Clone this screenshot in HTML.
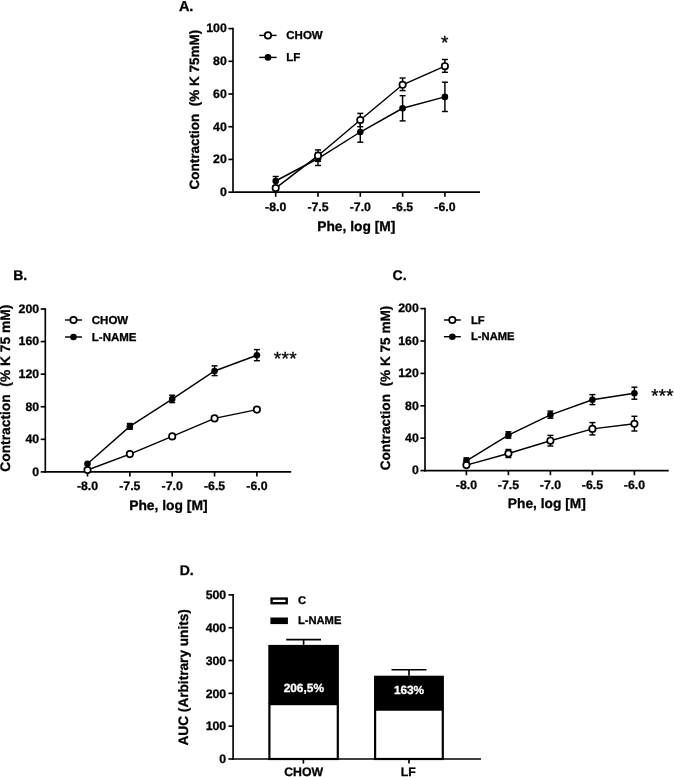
<!DOCTYPE html>
<html><head><meta charset="utf-8"><title>Figure</title>
<style>
html,body{margin:0;padding:0;background:#fff;}
svg{display:block;filter:blur(0.4px);font-family:"Liberation Sans", sans-serif;text-rendering:geometricPrecision;}
</style></head><body>
<svg width="674" height="777" viewBox="0 0 674 777">
<rect width="674" height="777" fill="#fff"/>
<text transform="translate(178.90 10.60) scale(1.0 1)" font-size="14.5" font-weight="bold" text-anchor="start" fill="#000" style="white-space:pre" stroke="#000" stroke-width="0.3">A.</text>
<line x1="233.00" y1="27.78" x2="233.00" y2="192.97" stroke="#000" stroke-width="1.65" stroke-linecap="butt"/>
<line x1="232.18" y1="192.15" x2="480.00" y2="192.15" stroke="#000" stroke-width="1.65" stroke-linecap="butt"/>
<line x1="228.40" y1="192.15" x2="233.00" y2="192.15" stroke="#000" stroke-width="1.65" stroke-linecap="butt"/>
<text transform="translate(226.80 195.98) scale(1.0 1)" font-size="12.3" font-weight="bold" text-anchor="end" fill="#000" style="white-space:pre" stroke="#000" stroke-width="0.3">0</text>
<line x1="228.40" y1="159.44" x2="233.00" y2="159.44" stroke="#000" stroke-width="1.65" stroke-linecap="butt"/>
<text transform="translate(226.80 163.27) scale(1.0 1)" font-size="12.3" font-weight="bold" text-anchor="end" fill="#000" style="white-space:pre" stroke="#000" stroke-width="0.3">20</text>
<line x1="228.40" y1="126.73" x2="233.00" y2="126.73" stroke="#000" stroke-width="1.65" stroke-linecap="butt"/>
<text transform="translate(226.80 130.56) scale(1.0 1)" font-size="12.3" font-weight="bold" text-anchor="end" fill="#000" style="white-space:pre" stroke="#000" stroke-width="0.3">40</text>
<line x1="228.40" y1="94.02" x2="233.00" y2="94.02" stroke="#000" stroke-width="1.65" stroke-linecap="butt"/>
<text transform="translate(226.80 97.85) scale(1.0 1)" font-size="12.3" font-weight="bold" text-anchor="end" fill="#000" style="white-space:pre" stroke="#000" stroke-width="0.3">60</text>
<line x1="228.40" y1="61.31" x2="233.00" y2="61.31" stroke="#000" stroke-width="1.65" stroke-linecap="butt"/>
<text transform="translate(226.80 65.14) scale(1.0 1)" font-size="12.3" font-weight="bold" text-anchor="end" fill="#000" style="white-space:pre" stroke="#000" stroke-width="0.3">80</text>
<line x1="228.40" y1="28.60" x2="233.00" y2="28.60" stroke="#000" stroke-width="1.65" stroke-linecap="butt"/>
<text transform="translate(226.80 32.43) scale(1.0 1)" font-size="12.3" font-weight="bold" text-anchor="end" fill="#000" style="white-space:pre" stroke="#000" stroke-width="0.3">100</text>
<line x1="275.70" y1="192.15" x2="275.70" y2="196.75" stroke="#000" stroke-width="1.65" stroke-linecap="butt"/>
<text transform="translate(275.70 210.65) scale(1.0 1)" font-size="12.3" font-weight="bold" text-anchor="middle" fill="#000" style="white-space:pre" stroke="#000" stroke-width="0.3">-8.0</text>
<line x1="318.00" y1="192.15" x2="318.00" y2="196.75" stroke="#000" stroke-width="1.65" stroke-linecap="butt"/>
<text transform="translate(318.00 210.65) scale(1.0 1)" font-size="12.3" font-weight="bold" text-anchor="middle" fill="#000" style="white-space:pre" stroke="#000" stroke-width="0.3">-7.5</text>
<line x1="360.30" y1="192.15" x2="360.30" y2="196.75" stroke="#000" stroke-width="1.65" stroke-linecap="butt"/>
<text transform="translate(360.30 210.65) scale(1.0 1)" font-size="12.3" font-weight="bold" text-anchor="middle" fill="#000" style="white-space:pre" stroke="#000" stroke-width="0.3">-7.0</text>
<line x1="402.60" y1="192.15" x2="402.60" y2="196.75" stroke="#000" stroke-width="1.65" stroke-linecap="butt"/>
<text transform="translate(402.60 210.65) scale(1.0 1)" font-size="12.3" font-weight="bold" text-anchor="middle" fill="#000" style="white-space:pre" stroke="#000" stroke-width="0.3">-6.5</text>
<line x1="444.90" y1="192.15" x2="444.90" y2="196.75" stroke="#000" stroke-width="1.65" stroke-linecap="butt"/>
<text transform="translate(444.90 210.65) scale(1.0 1)" font-size="12.3" font-weight="bold" text-anchor="middle" fill="#000" style="white-space:pre" stroke="#000" stroke-width="0.3">-6.0</text>
<text transform="translate(198.50 109.70) rotate(-90) scale(1.0 1)" font-size="13.5" font-weight="bold" text-anchor="middle" fill="#000" style="white-space:pre" stroke="#000" stroke-width="0.3">Contraction  (% K 75mM)</text>
<text transform="translate(356.30 230.50) scale(1.0 1)" font-size="13.8" font-weight="bold" text-anchor="middle" fill="#000" style="white-space:pre" stroke="#000" stroke-width="0.3">Phe, log [M]</text>
<polyline points="275.70,181.00 318.00,158.50 360.30,132.00 402.60,108.30 444.90,96.90" fill="none" stroke="#000" stroke-width="1.45"/>
<line x1="275.70" y1="176.50" x2="275.70" y2="186.00" stroke="#000" stroke-width="1.45" stroke-linecap="butt"/>
<line x1="272.70" y1="176.50" x2="278.70" y2="176.50" stroke="#000" stroke-width="1.45" stroke-linecap="butt"/>
<line x1="272.70" y1="186.00" x2="278.70" y2="186.00" stroke="#000" stroke-width="1.45" stroke-linecap="butt"/>
<line x1="318.00" y1="152.50" x2="318.00" y2="165.50" stroke="#000" stroke-width="1.45" stroke-linecap="butt"/>
<line x1="315.00" y1="152.50" x2="321.00" y2="152.50" stroke="#000" stroke-width="1.45" stroke-linecap="butt"/>
<line x1="315.00" y1="165.50" x2="321.00" y2="165.50" stroke="#000" stroke-width="1.45" stroke-linecap="butt"/>
<line x1="360.30" y1="121.50" x2="360.30" y2="142.20" stroke="#000" stroke-width="1.45" stroke-linecap="butt"/>
<line x1="357.30" y1="121.50" x2="363.30" y2="121.50" stroke="#000" stroke-width="1.45" stroke-linecap="butt"/>
<line x1="357.30" y1="142.20" x2="363.30" y2="142.20" stroke="#000" stroke-width="1.45" stroke-linecap="butt"/>
<line x1="402.60" y1="95.70" x2="402.60" y2="120.90" stroke="#000" stroke-width="1.45" stroke-linecap="butt"/>
<line x1="399.60" y1="95.70" x2="405.60" y2="95.70" stroke="#000" stroke-width="1.45" stroke-linecap="butt"/>
<line x1="399.60" y1="120.90" x2="405.60" y2="120.90" stroke="#000" stroke-width="1.45" stroke-linecap="butt"/>
<line x1="444.90" y1="82.20" x2="444.90" y2="111.50" stroke="#000" stroke-width="1.45" stroke-linecap="butt"/>
<line x1="441.90" y1="82.20" x2="447.90" y2="82.20" stroke="#000" stroke-width="1.45" stroke-linecap="butt"/>
<line x1="441.90" y1="111.50" x2="447.90" y2="111.50" stroke="#000" stroke-width="1.45" stroke-linecap="butt"/>
<circle cx="275.70" cy="181.00" r="3.3" fill="#000"/>
<circle cx="318.00" cy="158.50" r="3.3" fill="#000"/>
<circle cx="360.30" cy="132.00" r="3.3" fill="#000"/>
<circle cx="402.60" cy="108.30" r="3.3" fill="#000"/>
<circle cx="444.90" cy="96.90" r="3.3" fill="#000"/>
<polyline points="275.70,188.10 318.00,155.70 360.30,120.00 402.60,84.80 444.90,66.20" fill="none" stroke="#000" stroke-width="1.45"/>
<line x1="318.00" y1="149.90" x2="318.00" y2="161.40" stroke="#000" stroke-width="1.45" stroke-linecap="butt"/>
<line x1="315.00" y1="149.90" x2="321.00" y2="149.90" stroke="#000" stroke-width="1.45" stroke-linecap="butt"/>
<line x1="315.00" y1="161.40" x2="321.00" y2="161.40" stroke="#000" stroke-width="1.45" stroke-linecap="butt"/>
<line x1="360.30" y1="113.40" x2="360.30" y2="126.70" stroke="#000" stroke-width="1.45" stroke-linecap="butt"/>
<line x1="357.30" y1="113.40" x2="363.30" y2="113.40" stroke="#000" stroke-width="1.45" stroke-linecap="butt"/>
<line x1="357.30" y1="126.70" x2="363.30" y2="126.70" stroke="#000" stroke-width="1.45" stroke-linecap="butt"/>
<line x1="402.60" y1="78.00" x2="402.60" y2="90.60" stroke="#000" stroke-width="1.45" stroke-linecap="butt"/>
<line x1="399.60" y1="78.00" x2="405.60" y2="78.00" stroke="#000" stroke-width="1.45" stroke-linecap="butt"/>
<line x1="399.60" y1="90.60" x2="405.60" y2="90.60" stroke="#000" stroke-width="1.45" stroke-linecap="butt"/>
<line x1="444.90" y1="59.50" x2="444.90" y2="72.30" stroke="#000" stroke-width="1.45" stroke-linecap="butt"/>
<line x1="441.90" y1="59.50" x2="447.90" y2="59.50" stroke="#000" stroke-width="1.45" stroke-linecap="butt"/>
<line x1="441.90" y1="72.30" x2="447.90" y2="72.30" stroke="#000" stroke-width="1.45" stroke-linecap="butt"/>
<circle cx="275.70" cy="188.10" r="3.2" fill="#fff" stroke="#000" stroke-width="1.7"/>
<circle cx="318.00" cy="155.70" r="3.2" fill="#fff" stroke="#000" stroke-width="1.7"/>
<circle cx="360.30" cy="120.00" r="3.2" fill="#fff" stroke="#000" stroke-width="1.7"/>
<circle cx="402.60" cy="84.80" r="3.2" fill="#fff" stroke="#000" stroke-width="1.7"/>
<circle cx="444.90" cy="66.20" r="3.2" fill="#fff" stroke="#000" stroke-width="1.7"/>
<line x1="259.30" y1="35.40" x2="276.60" y2="35.40" stroke="#000" stroke-width="1.45" stroke-linecap="butt"/>
<circle cx="267.95" cy="35.40" r="3.2" fill="#fff" stroke="#000" stroke-width="1.7"/>
<text transform="translate(286.30 38.54) scale(1.0 1)" font-size="11.5" font-weight="bold" text-anchor="start" fill="#000" style="white-space:pre" stroke="#000" stroke-width="0.3">CHOW</text>
<line x1="259.30" y1="57.40" x2="276.60" y2="57.40" stroke="#000" stroke-width="1.45" stroke-linecap="butt"/>
<circle cx="267.95" cy="57.40" r="3.3" fill="#000"/>
<text transform="translate(286.30 60.54) scale(1.0 1)" font-size="11.5" font-weight="bold" text-anchor="start" fill="#000" style="white-space:pre" stroke="#000" stroke-width="0.3">LF</text>
<text transform="translate(444.70 49.40) scale(1.0 1)" font-size="19" font-weight="normal" text-anchor="middle" fill="#000" style="white-space:pre" stroke="#000" stroke-width="0.35">*</text>
<text transform="translate(13.20 279.50) scale(1.0 1)" font-size="14" font-weight="bold" text-anchor="start" fill="#000" style="white-space:pre" stroke="#000" stroke-width="0.3">B.</text>
<line x1="45.30" y1="308.18" x2="45.30" y2="472.72" stroke="#000" stroke-width="1.65" stroke-linecap="butt"/>
<line x1="44.47" y1="471.90" x2="291.20" y2="471.90" stroke="#000" stroke-width="1.65" stroke-linecap="butt"/>
<line x1="40.70" y1="471.90" x2="45.30" y2="471.90" stroke="#000" stroke-width="1.65" stroke-linecap="butt"/>
<text transform="translate(39.10 475.73) scale(1.0 1)" font-size="12.3" font-weight="bold" text-anchor="end" fill="#000" style="white-space:pre" stroke="#000" stroke-width="0.3">0</text>
<line x1="40.70" y1="439.32" x2="45.30" y2="439.32" stroke="#000" stroke-width="1.65" stroke-linecap="butt"/>
<text transform="translate(39.10 443.15) scale(1.0 1)" font-size="12.3" font-weight="bold" text-anchor="end" fill="#000" style="white-space:pre" stroke="#000" stroke-width="0.3">40</text>
<line x1="40.70" y1="406.74" x2="45.30" y2="406.74" stroke="#000" stroke-width="1.65" stroke-linecap="butt"/>
<text transform="translate(39.10 410.57) scale(1.0 1)" font-size="12.3" font-weight="bold" text-anchor="end" fill="#000" style="white-space:pre" stroke="#000" stroke-width="0.3">80</text>
<line x1="40.70" y1="374.16" x2="45.30" y2="374.16" stroke="#000" stroke-width="1.65" stroke-linecap="butt"/>
<text transform="translate(39.10 377.99) scale(1.0 1)" font-size="12.3" font-weight="bold" text-anchor="end" fill="#000" style="white-space:pre" stroke="#000" stroke-width="0.3">120</text>
<line x1="40.70" y1="341.58" x2="45.30" y2="341.58" stroke="#000" stroke-width="1.65" stroke-linecap="butt"/>
<text transform="translate(39.10 345.41) scale(1.0 1)" font-size="12.3" font-weight="bold" text-anchor="end" fill="#000" style="white-space:pre" stroke="#000" stroke-width="0.3">160</text>
<line x1="40.70" y1="309.00" x2="45.30" y2="309.00" stroke="#000" stroke-width="1.65" stroke-linecap="butt"/>
<text transform="translate(39.10 312.83) scale(1.0 1)" font-size="12.3" font-weight="bold" text-anchor="end" fill="#000" style="white-space:pre" stroke="#000" stroke-width="0.3">200</text>
<line x1="87.50" y1="471.90" x2="87.50" y2="476.50" stroke="#000" stroke-width="1.65" stroke-linecap="butt"/>
<text transform="translate(87.50 490.40) scale(1.0 1)" font-size="12.3" font-weight="bold" text-anchor="middle" fill="#000" style="white-space:pre" stroke="#000" stroke-width="0.3">-8.0</text>
<line x1="129.85" y1="471.90" x2="129.85" y2="476.50" stroke="#000" stroke-width="1.65" stroke-linecap="butt"/>
<text transform="translate(129.85 490.40) scale(1.0 1)" font-size="12.3" font-weight="bold" text-anchor="middle" fill="#000" style="white-space:pre" stroke="#000" stroke-width="0.3">-7.5</text>
<line x1="172.20" y1="471.90" x2="172.20" y2="476.50" stroke="#000" stroke-width="1.65" stroke-linecap="butt"/>
<text transform="translate(172.20 490.40) scale(1.0 1)" font-size="12.3" font-weight="bold" text-anchor="middle" fill="#000" style="white-space:pre" stroke="#000" stroke-width="0.3">-7.0</text>
<line x1="214.55" y1="471.90" x2="214.55" y2="476.50" stroke="#000" stroke-width="1.65" stroke-linecap="butt"/>
<text transform="translate(214.55 490.40) scale(1.0 1)" font-size="12.3" font-weight="bold" text-anchor="middle" fill="#000" style="white-space:pre" stroke="#000" stroke-width="0.3">-6.5</text>
<line x1="256.90" y1="471.90" x2="256.90" y2="476.50" stroke="#000" stroke-width="1.65" stroke-linecap="butt"/>
<text transform="translate(256.90 490.40) scale(1.0 1)" font-size="12.3" font-weight="bold" text-anchor="middle" fill="#000" style="white-space:pre" stroke="#000" stroke-width="0.3">-6.0</text>
<text transform="translate(9.50 388.20) rotate(-90) scale(1.0 1)" font-size="13.8" font-weight="bold" text-anchor="middle" fill="#000" style="white-space:pre" stroke="#000" stroke-width="0.3">Contraction  (% K 75 mM)</text>
<text transform="translate(168.40 510.40) scale(1.0 1)" font-size="13.85" font-weight="bold" text-anchor="middle" fill="#000" style="white-space:pre" stroke="#000" stroke-width="0.3">Phe, log [M]</text>
<polyline points="87.50,463.70 129.85,426.40 172.20,399.10 214.55,371.00 256.90,355.30" fill="none" stroke="#000" stroke-width="1.45"/>
<line x1="129.85" y1="423.50" x2="129.85" y2="429.30" stroke="#000" stroke-width="1.45" stroke-linecap="butt"/>
<line x1="126.85" y1="423.50" x2="132.85" y2="423.50" stroke="#000" stroke-width="1.45" stroke-linecap="butt"/>
<line x1="126.85" y1="429.30" x2="132.85" y2="429.30" stroke="#000" stroke-width="1.45" stroke-linecap="butt"/>
<line x1="172.20" y1="395.20" x2="172.20" y2="402.60" stroke="#000" stroke-width="1.45" stroke-linecap="butt"/>
<line x1="169.20" y1="395.20" x2="175.20" y2="395.20" stroke="#000" stroke-width="1.45" stroke-linecap="butt"/>
<line x1="169.20" y1="402.60" x2="175.20" y2="402.60" stroke="#000" stroke-width="1.45" stroke-linecap="butt"/>
<line x1="214.55" y1="365.90" x2="214.55" y2="375.60" stroke="#000" stroke-width="1.45" stroke-linecap="butt"/>
<line x1="211.55" y1="365.90" x2="217.55" y2="365.90" stroke="#000" stroke-width="1.45" stroke-linecap="butt"/>
<line x1="211.55" y1="375.60" x2="217.55" y2="375.60" stroke="#000" stroke-width="1.45" stroke-linecap="butt"/>
<line x1="256.90" y1="349.60" x2="256.90" y2="360.70" stroke="#000" stroke-width="1.45" stroke-linecap="butt"/>
<line x1="253.90" y1="349.60" x2="259.90" y2="349.60" stroke="#000" stroke-width="1.45" stroke-linecap="butt"/>
<line x1="253.90" y1="360.70" x2="259.90" y2="360.70" stroke="#000" stroke-width="1.45" stroke-linecap="butt"/>
<circle cx="87.50" cy="463.70" r="3.3" fill="#000"/>
<circle cx="129.85" cy="426.40" r="3.3" fill="#000"/>
<circle cx="172.20" cy="399.10" r="3.3" fill="#000"/>
<circle cx="214.55" cy="371.00" r="3.3" fill="#000"/>
<circle cx="256.90" cy="355.30" r="3.3" fill="#000"/>
<polyline points="87.50,470.00 129.85,454.10 172.20,436.40 214.55,418.40 256.90,409.60" fill="none" stroke="#000" stroke-width="1.45"/>
<circle cx="87.50" cy="470.00" r="3.2" fill="#fff" stroke="#000" stroke-width="1.7"/>
<circle cx="129.85" cy="454.10" r="3.2" fill="#fff" stroke="#000" stroke-width="1.7"/>
<circle cx="172.20" cy="436.40" r="3.2" fill="#fff" stroke="#000" stroke-width="1.7"/>
<circle cx="214.55" cy="418.40" r="3.2" fill="#fff" stroke="#000" stroke-width="1.7"/>
<circle cx="256.90" cy="409.60" r="3.2" fill="#fff" stroke="#000" stroke-width="1.7"/>
<line x1="65.00" y1="320.00" x2="82.00" y2="320.00" stroke="#000" stroke-width="1.45" stroke-linecap="butt"/>
<circle cx="73.50" cy="320.00" r="3.2" fill="#fff" stroke="#000" stroke-width="1.7"/>
<text transform="translate(91.80 323.84) scale(1.0 1)" font-size="11.5" font-weight="bold" text-anchor="start" fill="#000" style="white-space:pre" stroke="#000" stroke-width="0.3">CHOW</text>
<line x1="65.00" y1="337.00" x2="82.00" y2="337.00" stroke="#000" stroke-width="1.45" stroke-linecap="butt"/>
<circle cx="73.50" cy="337.00" r="3.3" fill="#000"/>
<text transform="translate(91.80 340.74) scale(1.0 1)" font-size="11.5" font-weight="bold" text-anchor="start" fill="#000" style="white-space:pre" stroke="#000" stroke-width="0.3">L-NAME</text>
<text transform="translate(285.40 364.60) scale(1.0 1)" font-size="19" font-weight="normal" text-anchor="middle" fill="#000" style="white-space:pre" stroke="#000" stroke-width="0.35" letter-spacing="0.3">***</text>
<text transform="translate(392.60 280.00) scale(1.0 1)" font-size="14" font-weight="bold" text-anchor="start" fill="#000" style="white-space:pre" stroke="#000" stroke-width="0.3">C.</text>
<line x1="425.00" y1="307.78" x2="425.00" y2="471.43" stroke="#000" stroke-width="1.65" stroke-linecap="butt"/>
<line x1="424.18" y1="470.60" x2="668.70" y2="470.60" stroke="#000" stroke-width="1.65" stroke-linecap="butt"/>
<line x1="420.40" y1="470.60" x2="425.00" y2="470.60" stroke="#000" stroke-width="1.65" stroke-linecap="butt"/>
<text transform="translate(418.80 474.43) scale(1.0 1)" font-size="12.3" font-weight="bold" text-anchor="end" fill="#000" style="white-space:pre" stroke="#000" stroke-width="0.3">0</text>
<line x1="420.40" y1="438.20" x2="425.00" y2="438.20" stroke="#000" stroke-width="1.65" stroke-linecap="butt"/>
<text transform="translate(418.80 442.03) scale(1.0 1)" font-size="12.3" font-weight="bold" text-anchor="end" fill="#000" style="white-space:pre" stroke="#000" stroke-width="0.3">40</text>
<line x1="420.40" y1="405.80" x2="425.00" y2="405.80" stroke="#000" stroke-width="1.65" stroke-linecap="butt"/>
<text transform="translate(418.80 409.63) scale(1.0 1)" font-size="12.3" font-weight="bold" text-anchor="end" fill="#000" style="white-space:pre" stroke="#000" stroke-width="0.3">80</text>
<line x1="420.40" y1="373.40" x2="425.00" y2="373.40" stroke="#000" stroke-width="1.65" stroke-linecap="butt"/>
<text transform="translate(418.80 377.23) scale(1.0 1)" font-size="12.3" font-weight="bold" text-anchor="end" fill="#000" style="white-space:pre" stroke="#000" stroke-width="0.3">120</text>
<line x1="420.40" y1="341.00" x2="425.00" y2="341.00" stroke="#000" stroke-width="1.65" stroke-linecap="butt"/>
<text transform="translate(418.80 344.83) scale(1.0 1)" font-size="12.3" font-weight="bold" text-anchor="end" fill="#000" style="white-space:pre" stroke="#000" stroke-width="0.3">160</text>
<line x1="420.40" y1="308.60" x2="425.00" y2="308.60" stroke="#000" stroke-width="1.65" stroke-linecap="butt"/>
<text transform="translate(418.80 312.43) scale(1.0 1)" font-size="12.3" font-weight="bold" text-anchor="end" fill="#000" style="white-space:pre" stroke="#000" stroke-width="0.3">200</text>
<line x1="466.40" y1="470.60" x2="466.40" y2="475.20" stroke="#000" stroke-width="1.65" stroke-linecap="butt"/>
<text transform="translate(466.40 488.50) scale(1.0 1)" font-size="12.3" font-weight="bold" text-anchor="middle" fill="#000" style="white-space:pre" stroke="#000" stroke-width="0.3">-8.0</text>
<line x1="508.40" y1="470.60" x2="508.40" y2="475.20" stroke="#000" stroke-width="1.65" stroke-linecap="butt"/>
<text transform="translate(508.40 488.50) scale(1.0 1)" font-size="12.3" font-weight="bold" text-anchor="middle" fill="#000" style="white-space:pre" stroke="#000" stroke-width="0.3">-7.5</text>
<line x1="550.40" y1="470.60" x2="550.40" y2="475.20" stroke="#000" stroke-width="1.65" stroke-linecap="butt"/>
<text transform="translate(550.40 488.50) scale(1.0 1)" font-size="12.3" font-weight="bold" text-anchor="middle" fill="#000" style="white-space:pre" stroke="#000" stroke-width="0.3">-7.0</text>
<line x1="592.40" y1="470.60" x2="592.40" y2="475.20" stroke="#000" stroke-width="1.65" stroke-linecap="butt"/>
<text transform="translate(592.40 488.50) scale(1.0 1)" font-size="12.3" font-weight="bold" text-anchor="middle" fill="#000" style="white-space:pre" stroke="#000" stroke-width="0.3">-6.5</text>
<line x1="634.40" y1="470.60" x2="634.40" y2="475.20" stroke="#000" stroke-width="1.65" stroke-linecap="butt"/>
<text transform="translate(634.40 488.50) scale(1.0 1)" font-size="12.3" font-weight="bold" text-anchor="middle" fill="#000" style="white-space:pre" stroke="#000" stroke-width="0.3">-6.0</text>
<text transform="translate(390.20 388.00) rotate(-90) scale(1.0 1)" font-size="13.6" font-weight="bold" text-anchor="middle" fill="#000" style="white-space:pre" stroke="#000" stroke-width="0.3">Contraction  (% K 75 mM)</text>
<text transform="translate(546.80 507.70) scale(1.0 1)" font-size="13.75" font-weight="bold" text-anchor="middle" fill="#000" style="white-space:pre" stroke="#000" stroke-width="0.3">Phe, log [M]</text>
<polyline points="466.40,460.80 508.40,435.10 550.40,414.80 592.40,399.70 634.40,393.20" fill="none" stroke="#000" stroke-width="1.45"/>
<line x1="466.40" y1="457.90" x2="466.40" y2="463.70" stroke="#000" stroke-width="1.45" stroke-linecap="butt"/>
<line x1="463.40" y1="457.90" x2="469.40" y2="457.90" stroke="#000" stroke-width="1.45" stroke-linecap="butt"/>
<line x1="463.40" y1="463.70" x2="469.40" y2="463.70" stroke="#000" stroke-width="1.45" stroke-linecap="butt"/>
<line x1="508.40" y1="431.80" x2="508.40" y2="438.20" stroke="#000" stroke-width="1.45" stroke-linecap="butt"/>
<line x1="505.40" y1="431.80" x2="511.40" y2="431.80" stroke="#000" stroke-width="1.45" stroke-linecap="butt"/>
<line x1="505.40" y1="438.20" x2="511.40" y2="438.20" stroke="#000" stroke-width="1.45" stroke-linecap="butt"/>
<line x1="550.40" y1="411.10" x2="550.40" y2="418.20" stroke="#000" stroke-width="1.45" stroke-linecap="butt"/>
<line x1="547.40" y1="411.10" x2="553.40" y2="411.10" stroke="#000" stroke-width="1.45" stroke-linecap="butt"/>
<line x1="547.40" y1="418.20" x2="553.40" y2="418.20" stroke="#000" stroke-width="1.45" stroke-linecap="butt"/>
<line x1="592.40" y1="394.60" x2="592.40" y2="404.60" stroke="#000" stroke-width="1.45" stroke-linecap="butt"/>
<line x1="589.40" y1="394.60" x2="595.40" y2="394.60" stroke="#000" stroke-width="1.45" stroke-linecap="butt"/>
<line x1="589.40" y1="404.60" x2="595.40" y2="404.60" stroke="#000" stroke-width="1.45" stroke-linecap="butt"/>
<line x1="634.40" y1="387.20" x2="634.40" y2="399.20" stroke="#000" stroke-width="1.45" stroke-linecap="butt"/>
<line x1="631.40" y1="387.20" x2="637.40" y2="387.20" stroke="#000" stroke-width="1.45" stroke-linecap="butt"/>
<line x1="631.40" y1="399.20" x2="637.40" y2="399.20" stroke="#000" stroke-width="1.45" stroke-linecap="butt"/>
<circle cx="466.40" cy="460.80" r="3.3" fill="#000"/>
<circle cx="508.40" cy="435.10" r="3.3" fill="#000"/>
<circle cx="550.40" cy="414.80" r="3.3" fill="#000"/>
<circle cx="592.40" cy="399.70" r="3.3" fill="#000"/>
<circle cx="634.40" cy="393.20" r="3.3" fill="#000"/>
<polyline points="466.40,465.10 508.40,453.50 550.40,440.70 592.40,428.90 634.40,423.80" fill="none" stroke="#000" stroke-width="1.45"/>
<line x1="508.40" y1="449.50" x2="508.40" y2="457.50" stroke="#000" stroke-width="1.45" stroke-linecap="butt"/>
<line x1="505.40" y1="449.50" x2="511.40" y2="449.50" stroke="#000" stroke-width="1.45" stroke-linecap="butt"/>
<line x1="505.40" y1="457.50" x2="511.40" y2="457.50" stroke="#000" stroke-width="1.45" stroke-linecap="butt"/>
<line x1="550.40" y1="435.40" x2="550.40" y2="446.00" stroke="#000" stroke-width="1.45" stroke-linecap="butt"/>
<line x1="547.40" y1="435.40" x2="553.40" y2="435.40" stroke="#000" stroke-width="1.45" stroke-linecap="butt"/>
<line x1="547.40" y1="446.00" x2="553.40" y2="446.00" stroke="#000" stroke-width="1.45" stroke-linecap="butt"/>
<line x1="592.40" y1="422.60" x2="592.40" y2="434.90" stroke="#000" stroke-width="1.45" stroke-linecap="butt"/>
<line x1="589.40" y1="422.60" x2="595.40" y2="422.60" stroke="#000" stroke-width="1.45" stroke-linecap="butt"/>
<line x1="589.40" y1="434.90" x2="595.40" y2="434.90" stroke="#000" stroke-width="1.45" stroke-linecap="butt"/>
<line x1="634.40" y1="416.30" x2="634.40" y2="431.00" stroke="#000" stroke-width="1.45" stroke-linecap="butt"/>
<line x1="631.40" y1="416.30" x2="637.40" y2="416.30" stroke="#000" stroke-width="1.45" stroke-linecap="butt"/>
<line x1="631.40" y1="431.00" x2="637.40" y2="431.00" stroke="#000" stroke-width="1.45" stroke-linecap="butt"/>
<circle cx="466.40" cy="465.10" r="3.2" fill="#fff" stroke="#000" stroke-width="1.7"/>
<circle cx="508.40" cy="453.50" r="3.2" fill="#fff" stroke="#000" stroke-width="1.7"/>
<circle cx="550.40" cy="440.70" r="3.2" fill="#fff" stroke="#000" stroke-width="1.7"/>
<circle cx="592.40" cy="428.90" r="3.2" fill="#fff" stroke="#000" stroke-width="1.7"/>
<circle cx="634.40" cy="423.80" r="3.2" fill="#fff" stroke="#000" stroke-width="1.7"/>
<line x1="443.90" y1="320.00" x2="460.80" y2="320.00" stroke="#000" stroke-width="1.45" stroke-linecap="butt"/>
<circle cx="452.35" cy="320.00" r="3.2" fill="#fff" stroke="#000" stroke-width="1.7"/>
<text transform="translate(471.00 323.53) scale(1.0 1)" font-size="11.2" font-weight="bold" text-anchor="start" fill="#000" style="white-space:pre" stroke="#000" stroke-width="0.3">LF</text>
<line x1="443.90" y1="336.70" x2="460.80" y2="336.70" stroke="#000" stroke-width="1.45" stroke-linecap="butt"/>
<circle cx="452.35" cy="336.70" r="3.3" fill="#000"/>
<text transform="translate(471.00 339.93) scale(1.0 1)" font-size="11.2" font-weight="bold" text-anchor="start" fill="#000" style="white-space:pre" stroke="#000" stroke-width="0.3">L-NAME</text>
<text transform="translate(651.20 401.60) scale(1.0 1)" font-size="18.6" font-weight="normal" text-anchor="start" fill="#000" style="white-space:pre" stroke="#000" stroke-width="0.35" letter-spacing="0.3">***</text>
<text transform="translate(179.70 575.10) scale(1.0 1)" font-size="14" font-weight="bold" text-anchor="start" fill="#000" style="white-space:pre" stroke="#000" stroke-width="0.3">D.</text>
<line x1="233.10" y1="594.07" x2="233.10" y2="759.83" stroke="#000" stroke-width="1.65" stroke-linecap="butt"/>
<line x1="232.28" y1="759.00" x2="481.00" y2="759.00" stroke="#000" stroke-width="1.65" stroke-linecap="butt"/>
<line x1="228.50" y1="759.00" x2="233.10" y2="759.00" stroke="#000" stroke-width="1.65" stroke-linecap="butt"/>
<text transform="translate(226.20 763.23) scale(1.0 1)" font-size="12.3" font-weight="bold" text-anchor="end" fill="#000" style="white-space:pre" stroke="#000" stroke-width="0.3">0</text>
<line x1="228.50" y1="726.18" x2="233.10" y2="726.18" stroke="#000" stroke-width="1.65" stroke-linecap="butt"/>
<text transform="translate(226.20 730.41) scale(1.0 1)" font-size="12.3" font-weight="bold" text-anchor="end" fill="#000" style="white-space:pre" stroke="#000" stroke-width="0.3">100</text>
<line x1="228.50" y1="693.36" x2="233.10" y2="693.36" stroke="#000" stroke-width="1.65" stroke-linecap="butt"/>
<text transform="translate(226.20 697.59) scale(1.0 1)" font-size="12.3" font-weight="bold" text-anchor="end" fill="#000" style="white-space:pre" stroke="#000" stroke-width="0.3">200</text>
<line x1="228.50" y1="660.54" x2="233.10" y2="660.54" stroke="#000" stroke-width="1.65" stroke-linecap="butt"/>
<text transform="translate(226.20 664.77) scale(1.0 1)" font-size="12.3" font-weight="bold" text-anchor="end" fill="#000" style="white-space:pre" stroke="#000" stroke-width="0.3">300</text>
<line x1="228.50" y1="627.72" x2="233.10" y2="627.72" stroke="#000" stroke-width="1.65" stroke-linecap="butt"/>
<text transform="translate(226.20 631.95) scale(1.0 1)" font-size="12.3" font-weight="bold" text-anchor="end" fill="#000" style="white-space:pre" stroke="#000" stroke-width="0.3">400</text>
<line x1="228.50" y1="594.90" x2="233.10" y2="594.90" stroke="#000" stroke-width="1.65" stroke-linecap="butt"/>
<text transform="translate(226.20 599.13) scale(1.0 1)" font-size="12.3" font-weight="bold" text-anchor="end" fill="#000" style="white-space:pre" stroke="#000" stroke-width="0.3">500</text>
<line x1="303.40" y1="759.00" x2="303.40" y2="763.60" stroke="#000" stroke-width="1.65" stroke-linecap="butt"/>
<line x1="409.00" y1="759.00" x2="409.00" y2="763.60" stroke="#000" stroke-width="1.65" stroke-linecap="butt"/>
<text transform="translate(188.00 677.30) rotate(-90) scale(1.0 1)" font-size="13.65" font-weight="bold" text-anchor="middle" fill="#000" style="white-space:pre" stroke="#000" stroke-width="0.3">AUC (Arbitrary units)</text>
<text transform="translate(303.70 776.00) scale(1.0 1)" font-size="12.3" font-weight="bold" text-anchor="middle" fill="#000" style="white-space:pre" stroke="#000" stroke-width="0.3">CHOW</text>
<text transform="translate(408.30 776.00) scale(1.0 1)" font-size="12.3" font-weight="bold" text-anchor="middle" fill="#000" style="white-space:pre" stroke="#000" stroke-width="0.3">LF</text>
<line x1="303.60" y1="639.60" x2="303.60" y2="644.90" stroke="#000" stroke-width="1.65" stroke-linecap="butt"/>
<line x1="286.20" y1="639.60" x2="321.00" y2="639.60" stroke="#000" stroke-width="1.65" stroke-linecap="butt"/>
<rect x="268.30" y="644.90" width="70.60" height="59.20" fill="#000"/>
<rect x="269.40" y="704.10" width="68.40" height="54.90" fill="#fff" stroke="#000" stroke-width="2.2"/>
<line x1="409.00" y1="669.70" x2="409.00" y2="675.70" stroke="#000" stroke-width="1.65" stroke-linecap="butt"/>
<line x1="391.50" y1="669.70" x2="426.50" y2="669.70" stroke="#000" stroke-width="1.65" stroke-linecap="butt"/>
<rect x="374.00" y="675.70" width="69.90" height="33.95" fill="#000"/>
<rect x="375.10" y="709.65" width="67.70" height="49.35" fill="#fff" stroke="#000" stroke-width="2.2"/>
<text transform="translate(303.80 692.30) scale(1.0 1)" font-size="11.9" font-weight="bold" text-anchor="middle" fill="#fff" style="white-space:pre" stroke="#fff" stroke-width="0.3">206,5%</text>
<text transform="translate(409.00 694.10) scale(1.0 1)" font-size="11.8" font-weight="bold" text-anchor="middle" fill="#fff" style="white-space:pre" stroke="#fff" stroke-width="0.3">163%</text>
<rect x="271.6" y="598.6" width="15.1" height="4.6" fill="#fff" stroke="#000" stroke-width="2.4"/>
<rect x="270.4" y="617.5" width="17.5" height="6.6" fill="#000"/>
<text transform="translate(297.90 604.40) scale(1.0 1)" font-size="11.2" font-weight="bold" text-anchor="start" fill="#000" style="white-space:pre" stroke="#000" stroke-width="0.3">C</text>
<text transform="translate(297.90 624.20) scale(1.0 1)" font-size="11.2" font-weight="bold" text-anchor="start" fill="#000" style="white-space:pre" stroke="#000" stroke-width="0.3">L-NAME</text>
</svg>
</body></html>
